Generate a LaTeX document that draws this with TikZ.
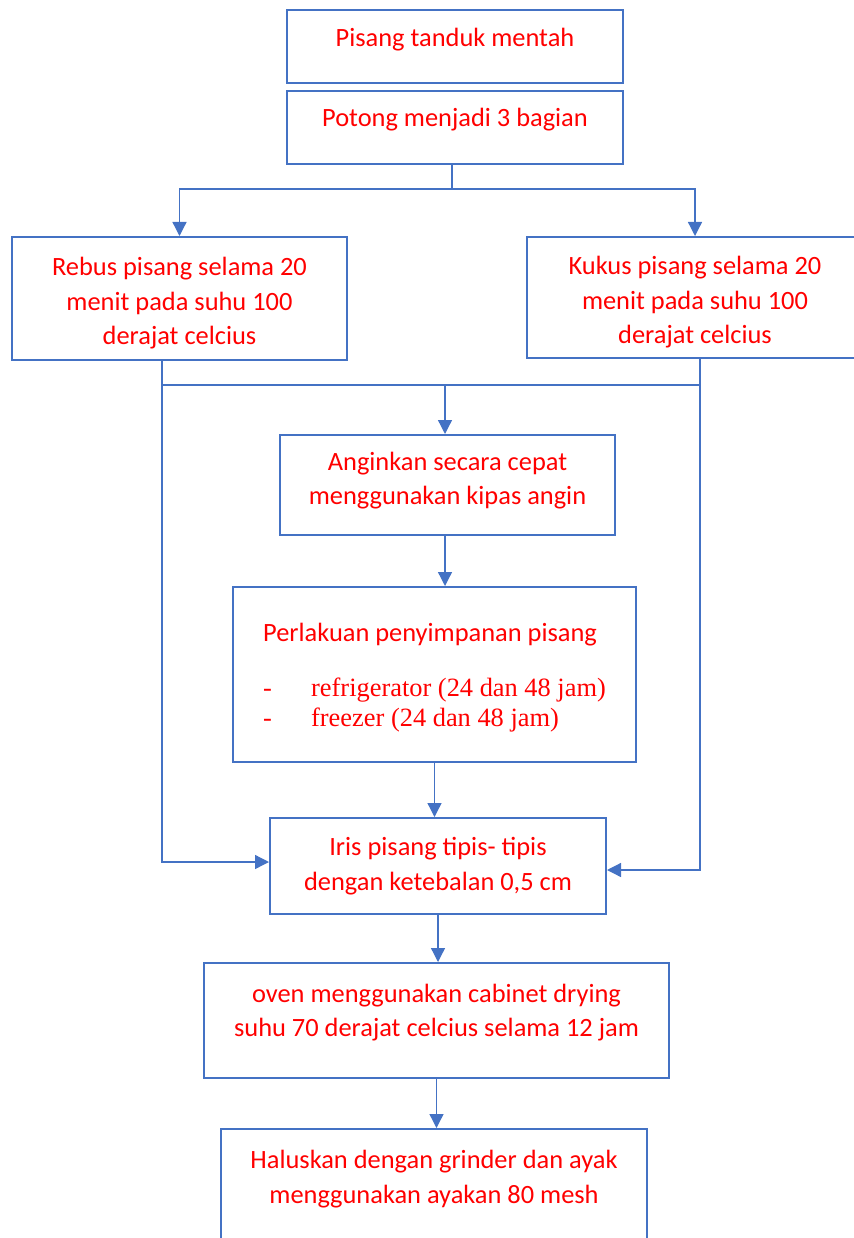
\documentclass[tikz,border=0pt]{standalone}
\usepackage{fontspec}
\setmainfont{Carlito}
\newfontfamily\timesfont{Liberation Serif}
\usetikzlibrary{arrows.meta}
\definecolor{boxblue}{HTML}{4472C4}
\definecolor{textred}{HTML}{FF0000}
\tikzset{
  stepbox/.style={draw=boxblue, line width=2pt, rectangle, inner sep=0pt, align=center,
    text=textred, font=\fontsize{26.4}{34.5}\selectfont},
  link/.style={draw=boxblue, line width=1.3pt},
  flow/.style={link, -{Triangle[width=14pt,length=14pt]}},
}

\begin{document}
\begin{tikzpicture}[x=1pt, y=1pt]
        \useasboundingbox (0,0) rectangle (853,-1238);

        \node (raw)   at (455.0,  -46.5) [stepbox, minimum width=336, minimum height=73, text depth=17.5pt] {Pisang tanduk mentah};
        \node (cut)   at (455.0, -127.5) [stepbox, minimum width=336, minimum height=73, text depth=19.5pt] {Potong menjadi 3 bagian};
        \node (boil)  at (179.5, -298.5) [stepbox, minimum width=335, minimum height=123, text height=97pt] {Rebus pisang selama 20\\menit pada suhu 100\\derajat celcius};
        \node (steam) at (695.0, -297.5) [stepbox, minimum width=336, minimum height=121, text height=97pt] {Kukus pisang selama 20\\menit pada suhu 100\\derajat celcius};
        \node (cool)  at (447.5, -485.0) [stepbox, minimum width=335, minimum height=100, text depth=13.5pt] {Anginkan secara cepat\\menggunakan kipas angin};
        \node (store) at (434.5, -674.5) [stepbox, align=left, minimum width=403, minimum height=175, text depth=-2pt]
            {Perlakuan penyimpanan pisang\\[20.5pt]
             {\timesfont\makebox[48pt][l]{-}refrigerator (24 dan 48 jam)}\\[-4.5pt]
             {\timesfont\makebox[48pt][l]{-}freezer (24 dan 48 jam)}};
        \node (slice) at (438.0, -866.0) [stepbox, minimum width=336, minimum height=96] {Iris pisang tipis- tipis\\dengan ketebalan 0,5 cm};
        \node (oven)  at (436.5,-1020.5) [stepbox, minimum width=465, minimum height=115, text depth=20.5pt] {oven menggunakan cabinet drying\\suhu 70 derajat celcius selama 12 jam};
        \node (grind) at (434.0,-1194.0) [stepbox, minimum width=426, minimum height=130] {Haluskan dengan grinder dan ayak\\menggunakan ayakan 80 mesh\\\mbox{}};

        \coordinate (split) at (452,-189);
        \coordinate (lj) at (162,-385);
        \coordinate (mj) at (445,-385);
        \coordinate (rj) at (700,-385);

        \draw[link] (split |- cut.south) -- (split);
        \draw[flow] (split) -| (boil.north);
        \draw[flow] (split) -| (steam.north);

        \draw[link] (lj |- boil.south) -- (lj) -- (rj);
        \draw[link] (rj |- steam.south) -- (rj);
        \draw[flow] (mj) -- (mj |- cool.north);
        \draw[flow] (lj) |- ([yshift=4pt]slice.west);
        \draw[flow] (rj) |- ([yshift=-4pt]slice.east);

        \draw[flow] (mj |- cool.south) -- (mj |- store.north);
        \draw[flow] (store.south) -- (store.south |- slice.north);
        \draw[flow] (slice.south) -- (slice.south |- oven.north);
        \draw[flow] (oven.south) -- (oven.south |- grind.north);
    \end{tikzpicture}
\end{document}
